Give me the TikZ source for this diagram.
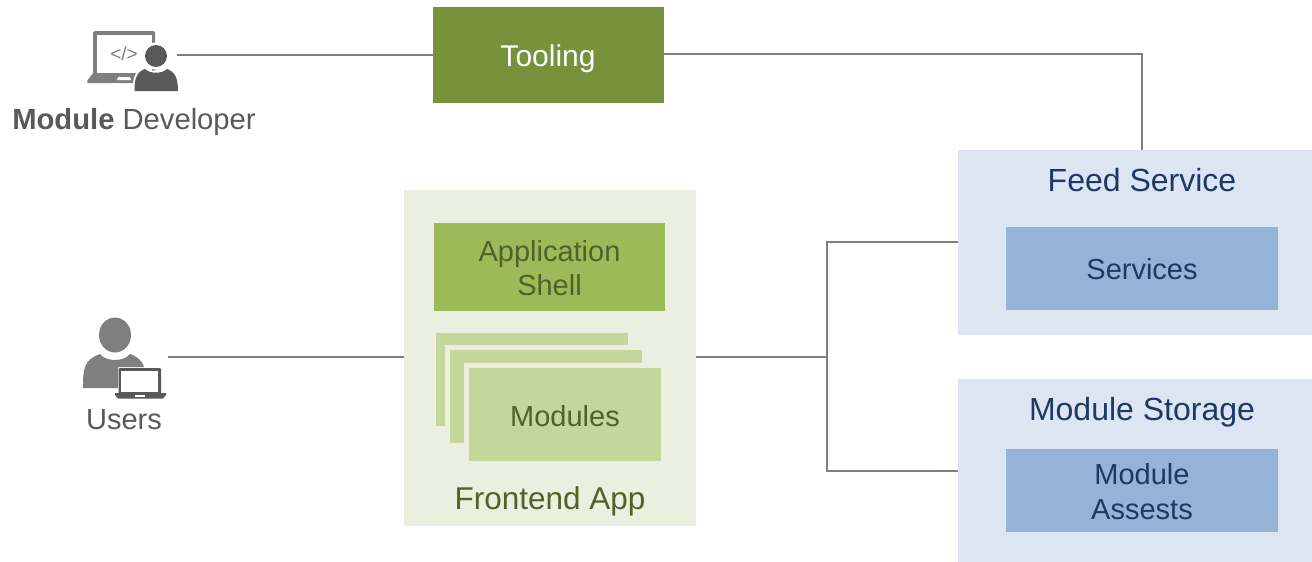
\documentclass[tikz,border=0pt]{standalone}
\usepackage{fontspec}
\setmainfont{Liberation Sans}
\definecolor{tool}{HTML}{76923A}
\definecolor{appbg}{HTML}{EBEFDF}
\definecolor{shell}{HTML}{9BBB59}
\definecolor{mods}{HTML}{C3D69B}
\definecolor{svcbg}{HTML}{DCE6F2}
\definecolor{svc}{HTML}{95B3D7}
\definecolor{navy}{HTML}{1F3864}
\definecolor{olive}{HTML}{4F6228}
\definecolor{wire}{HTML}{7F7F7F}
\definecolor{darkg}{HTML}{595959}
\definecolor{midg}{HTML}{7F7F7F}
\tikzset{
  x=1pt,y=-1pt,
  flat/.style={inner sep=0pt,outer sep=0pt,align=center,font=\fontsize{29}{35}\selectfont},
  wirel/.style={draw=wire,line width=2.2pt},
  lab/.style={inner sep=0pt,outer sep=0pt,align=center},
  card/.style={flat,fill=mods,minimum width=192pt,minimum height=93pt,anchor=north west,
    preaction={draw=appbg,line width=11pt,rounded corners=1pt}},
}
\begin{document}
\begin{tikzpicture}
\useasboundingbox (0,0) rectangle (1312,562);
% boxes
\node[flat,fill=tool,minimum width=231pt,minimum height=96pt,anchor=north west] (tooling) at (433,7) {};
\node[lab,text=white,font=\fontsize{30}{36}\selectfont] (toolinglabel) at (548,59) {Tooling};
\node[flat,fill=appbg,minimum width=292pt,minimum height=336pt,anchor=north west] (app) at (404,190) {};
\node[flat,fill=shell,minimum width=231pt,minimum height=88pt,anchor=north west] (shell) at (434,223) {};
\node[lab,text=olive,font=\fontsize{29}{34}\selectfont] (shelllabel) at (549.5,268) {Application\\Shell};
\node[card] (modA) at (436,333) {};
\node[card] (modB) at (450,350) {};
\node[card] (modC) at (469,368) {};
\node[lab,text=olive,font=\fontsize{29}{35}\selectfont] (modlabel) at (565,416) {Modules};
\node[lab,text=olive,font=\fontsize{31.5}{38}\selectfont] (applabel) at (550,501) {Frontend App};
\node[flat,fill=svcbg,minimum width=354pt,minimum height=185pt,anchor=north west] (feed) at (958,150) {};
\node[lab,text=navy,font=\fontsize{32}{38}\selectfont] (feedlabel) at (1142,180) {Feed Service};
\node[flat,fill=svc,minimum width=272pt,minimum height=83pt,anchor=north west] (services) at (1006,227) {};
\node[lab,text=navy,font=\fontsize{29}{35}\selectfont] (serviceslabel) at (1142,269) {Services};
\node[flat,fill=svcbg,minimum width=354pt,minimum height=183pt,anchor=north west] (storage) at (958,379) {};
\node[lab,text=navy,font=\fontsize{32}{38}\selectfont] (storagelabel) at (1142,412) {Module Storage};
\node[flat,fill=svc,minimum width=272pt,minimum height=83pt,anchor=north west] (assets) at (1006,449) {};
\node[lab,text=navy,font=\fontsize{29}{35}\selectfont] (assetslabel) at (1142,492) {Module\\Assests};
% people labels
\node[lab,text=darkg,font=\fontsize{29.2}{35}\selectfont] (devlabel) at (134,122) {\textbf{Module} Developer};
\node[lab,text=darkg,font=\fontsize{29}{35}\selectfont] (userlabel) at (124,420) {Users};
% developer icon
\fill[midg,rounded corners=1.5pt] (93,31) rectangle (155,75);
\fill[white] (97,35) rectangle (151.5,73);
\fill[midg,rounded corners=1pt] (93,73) -- (151,73) -- (151,83) -- (87,83) -- (87,81) -- cycle;
\fill[white] (118,77) -- (130,77) -- (131,80) -- (117,80) -- cycle;
\node[inner sep=0pt,text=midg,font=\fontsize{19}{22}\selectfont] (code) at (124,54) {</>};
\fill[white] (156,56) circle (13.5);
\path[fill=darkg,preaction={draw=white,line width=4pt}] (134.5,91) .. controls (134.5,78) and (137,72) .. (145,69) .. controls (150,74) and (162,74) .. (167,69) .. controls (175,72) and (178,78) .. (178,91) -- cycle;
\fill[darkg] (156,56) circle (11);
\coordinate (devicon) at (177,55);
% user icon
\fill[midg] (115,335) ellipse (16 and 17.5);
\fill[midg] (83,388) .. controls (83,368) and (84,360) .. (100,354) .. controls (106,362) and (124,362) .. (130,354) .. controls (138,357) and (143,362) .. (144,367) -- (118,367) -- (118,388) -- cycle;
\fill[darkg,rounded corners=1pt] (118.5,368) rectangle (161,394);
\fill[white] (121,371) rectangle (158,392);
\fill[darkg] (115,393) -- (166,393) -- (166,395) -- (163,398.5) -- (118,398.5) -- (115,395) -- cycle;
\fill[white] (135,394.5) rectangle (145,396.5);
\coordinate (usericon) at (168,357);
% connectors
\coordinate (hub) at (827,357);
\coordinate (hubtop) at (827,242);
\coordinate (hubbot) at (827,471);
\draw[wirel] (devicon) -- (tooling.west |- devicon);
\draw[wirel] (tooling.east |- 0,54) -| (feed.north -| 1142,0);
\draw[wirel] (usericon) -- (app.west |- usericon);
\draw[wirel] (app.east |- hub) -- (hub);
\draw[wirel] (feed.west |- hubtop) -- (hubtop) -- (hubbot) -- (storage.west |- hubbot);
\end{tikzpicture}
\end{document}
